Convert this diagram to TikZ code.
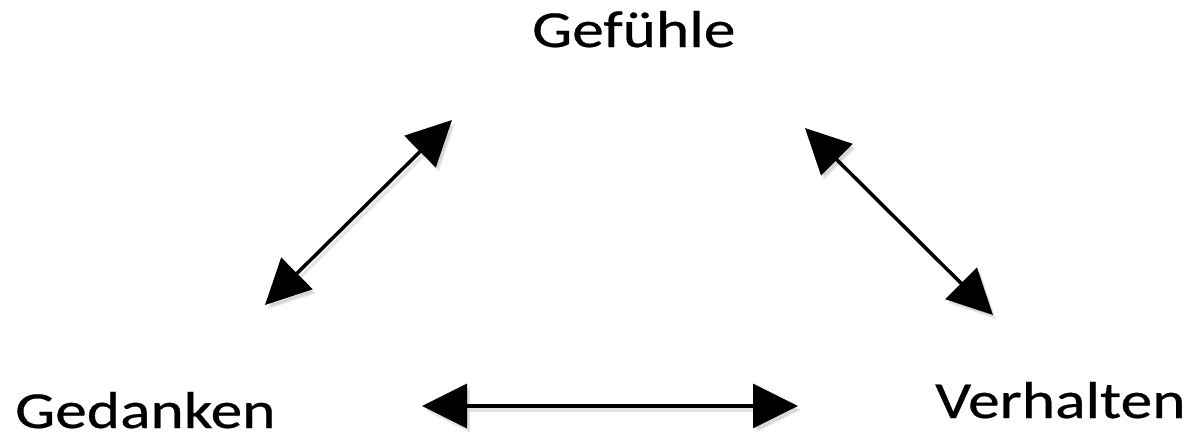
\documentclass[tikz,border=0pt]{standalone}
\usepackage{fontspec}
\setmainfont{Carlito}
\newfontfamily\labfont[FakeBold=0.5]{Carlito}
\usetikzlibrary{arrows.meta}
\newcommand{\widetext}[1]{\scalebox{1.22}[1]{#1}}
\begin{document}
\begin{tikzpicture}[x=1pt,y=-1pt,
  label/.style={inner sep=0pt,anchor=base west,font=\labfont\fontsize{52}{60}\selectfont},
  dbl/.style={line width=3.5pt,{Triangle[length=45pt,width=44pt]}-{Triangle[length=45pt,width=44pt]}},
  shade/.style={dbl,draw=black!40,opacity=0.25,transform canvas={shift={(3pt,-4pt)}}}]
  \useasboundingbox (0,0) rectangle (1193,442);
  % labels
  \node[label] (gef) at (532,47) {\widetext{Gefühle}};
  \node[label] (ged) at (15,428) {\widetext{Gedanken}};
  \node[label] (ver) at (935,418) {\widetext{Verhalten}};
  % arrow end points
  \coordinate (a1) at (265,305); \coordinate (a2) at (452,120);
  \coordinate (b1) at (805,128); \coordinate (b2) at (993,315);
  \coordinate (c1) at (422,406); \coordinate (c2) at (798,406);
  % soft shadows
  \draw[shade] (a1) -- (a2);
  \draw[shade] (b1) -- (b2);
  \draw[shade] (c1) -- (c2);
  % arrows
  \draw[dbl] (a1) -- (a2);
  \draw[dbl] (b1) -- (b2);
  \draw[dbl] (c1) -- (c2);
\end{tikzpicture}
\end{document}
